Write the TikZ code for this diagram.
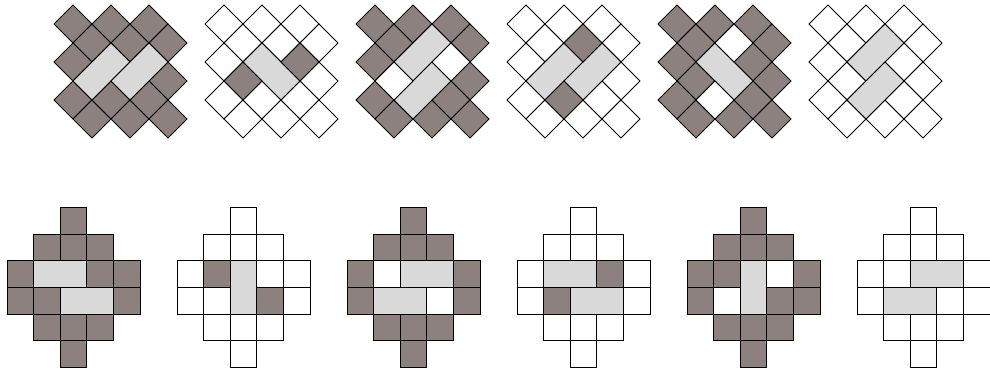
\documentclass[tikz,border=0pt]{standalone}
\definecolor{tiledark}{RGB}{140,129,126}
\definecolor{tilelight}{RGB}{217,217,217}
\tikzset{
  darkcell/.style={fill=tiledark, draw=black, line width=0.9pt},
  lightcell/.style={fill=tilelight, draw=black, line width=0.9pt},
  whitecell/.style={fill=white, draw=black, line width=0.9pt},
}
% tilted cell, centre (k,l)
\newcommand{\dcell}[3]{\filldraw[#1] (#2-1,#3) -- (#2,#3-1) -- (#2+1,#3) -- (#2,#3+1) -- cycle;}
% tilted dominoes: (k,l)+(k-1,l+1) and (k,l)+(k+1,l+1)
\newcommand{\ldom}[2]{\filldraw[lightcell] (#1,#2-1) -- (#1+1,#2) -- (#1-1,#2+2) -- (#1-2,#2+1) -- cycle;}
\newcommand{\rdom}[2]{\filldraw[lightcell] (#1-1,#2) -- (#1,#2-1) -- (#1+2,#2+1) -- (#1+1,#2+2) -- cycle;}
% upright cell and dominoes, corner (c,r)
\newcommand{\scell}[3]{\filldraw[#1] (#2,#3) rectangle ++(1,1);}
\newcommand{\hdom}[2]{\filldraw[lightcell] (#1,#2) rectangle ++(2,1);}
\newcommand{\vdom}[2]{\filldraw[lightcell] (#1,#2) rectangle ++(1,2);}
\newcommand{\tiltboard}[1]{\foreach \k in {1,3,5} \foreach \l in {1,3,5} {\dcell{#1}{\k}{\l} \dcell{#1}{\k+1}{\l+1}}}
\newcommand{\squareboard}[1]{\foreach \col/\row in {2/0,1/1,2/1,3/1,0/2,1/2,2/2,3/2,4/2,0/3,1/3,2/3,3/3,4/3,1/4,2/4,3/4,2/5} {\scell{#1}{\col}{\row}}}
\begin{document}
\begin{tikzpicture}[x=1pt, y=-1pt]
\useasboundingbox (0,0) rectangle (990,373);
\coordinate (t1) at (54,5);
\coordinate (t2) at (205,5);
\coordinate (t3) at (356,5);
\coordinate (t4) at (507,5);
\coordinate (t5) at (658,5);
\coordinate (t6) at (809,5);
\coordinate (b1) at (7,207.7);
\coordinate (b2) at (177,207.7);
\coordinate (b3) at (347,207.7);
\coordinate (b4) at (517,207.7);
\coordinate (b5) at (687,207.7);
\coordinate (b6) at (857,207.7);

\begin{scope}[shift={(t1)}, x=19pt, y=-19pt]
\tiltboard{darkcell}
\ldom{3}{3} \ldom{5}{3}
\end{scope}
\begin{scope}[shift={(t2)}, x=19pt, y=-19pt]
\tiltboard{whitecell}
\rdom{3}{3}
\dcell{darkcell}{2}{4} \dcell{darkcell}{5}{3}
\end{scope}
\begin{scope}[shift={(t3)}, x=19pt, y=-19pt]
\tiltboard{darkcell}
\ldom{4}{2} \ldom{4}{4}
\dcell{whitecell}{2}{4} \dcell{whitecell}{5}{3}
\end{scope}
\begin{scope}[shift={(t4)}, x=19pt, y=-19pt]
\tiltboard{whitecell}
\ldom{3}{3} \ldom{5}{3}
\dcell{darkcell}{4}{2} \dcell{darkcell}{3}{5}
\end{scope}
\begin{scope}[shift={(t5)}, x=19pt, y=-19pt]
\tiltboard{darkcell}
\rdom{3}{3}
\dcell{whitecell}{4}{2} \dcell{whitecell}{3}{5}
\end{scope}
\begin{scope}[shift={(t6)}, x=19pt, y=-19pt]
\tiltboard{whitecell}
\ldom{4}{2} \ldom{4}{4}
\end{scope}

\begin{scope}[shift={(b1)}, x=26.6pt, y=-26.6pt]
\squareboard{darkcell}
\hdom{1}{2} \hdom{2}{3}
\end{scope}
\begin{scope}[shift={(b2)}, x=26.6pt, y=-26.6pt]
\squareboard{whitecell}
\vdom{2}{2}
\scell{darkcell}{1}{2} \scell{darkcell}{3}{3}
\end{scope}
\begin{scope}[shift={(b3)}, x=26.6pt, y=-26.6pt]
\squareboard{darkcell}
\hdom{2}{2} \hdom{1}{3}
\scell{whitecell}{1}{2} \scell{whitecell}{3}{3}
\end{scope}
\begin{scope}[shift={(b4)}, x=26.6pt, y=-26.6pt]
\squareboard{whitecell}
\hdom{1}{2} \hdom{2}{3}
\scell{darkcell}{3}{2} \scell{darkcell}{1}{3}
\end{scope}
\begin{scope}[shift={(b5)}, x=26.6pt, y=-26.6pt]
\squareboard{darkcell}
\vdom{2}{2}
\scell{whitecell}{3}{2} \scell{whitecell}{1}{3}
\end{scope}
\begin{scope}[shift={(b6)}, x=26.6pt, y=-26.6pt]
\squareboard{whitecell}
\hdom{2}{2} \hdom{1}{3}
\end{scope}
\end{tikzpicture}
\end{document}
